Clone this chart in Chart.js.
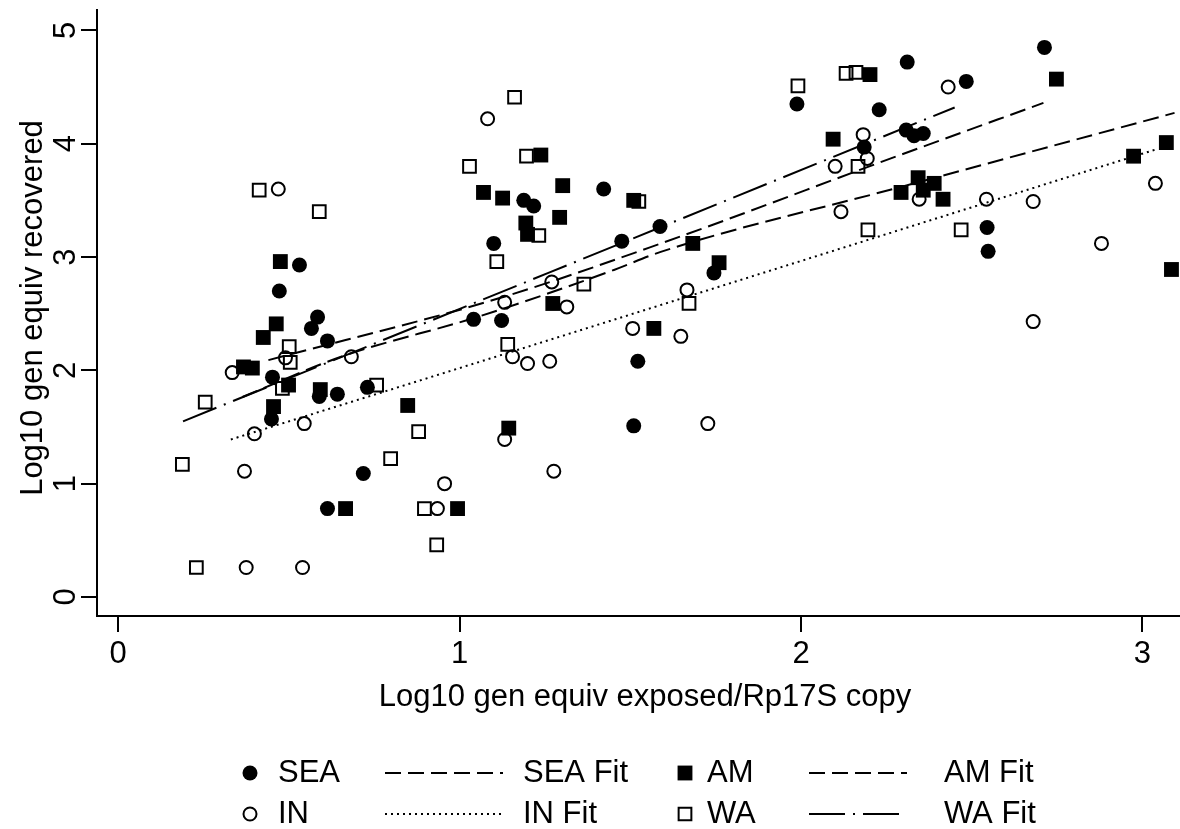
<!DOCTYPE html>
<html>
<head>
<meta charset="utf-8">
<script src="https://cdn.jsdelivr.net/npm/chart.js@4.4.1/dist/chart.umd.min.js"></script>
<style>
  html, body { margin: 0; padding: 0; background: #fff; }
</style>
</head>
<body>
<canvas id="chart" width="1180" height="829"></canvas>
<script>
// values
const seaX = [0.472,0.531,0.584,0.566,0.613,0.452,0.589,0.642,0.730,0.449,0.718,0.613,1.041,1.123,1.100,1.188,1.217,1.422,1.475,1.587,1.522,1.510,1.745,1.988,2.229,2.185,2.311,2.308,2.331,2.358,2.484,2.713,2.545,2.548];
const seaY = [2.70,2.93,2.47,2.37,2.26,1.94,1.77,1.79,1.85,1.57,1.09,0.78,2.45,2.44,3.12,3.50,3.45,3.60,3.14,3.27,2.08,1.51,2.86,4.35,4.30,3.97,4.72,4.12,4.07,4.09,4.55,4.85,3.26,3.05];

const inX = [0.469,0.490,0.683,0.334,0.545,0.399,0.370,0.375,0.540,0.956,0.935,1.082,1.132,1.132,1.155,1.199,1.264,1.270,1.314,1.276,1.507,1.648,1.666,1.727,2.100,2.117,2.182,2.194,2.431,2.346,2.543,2.680,2.680,2.880,3.038];
const inY = [3.60,2.11,2.12,1.98,1.53,1.44,1.11,0.26,0.26,1.00,0.78,4.22,2.60,1.39,2.12,2.06,2.08,2.78,2.56,1.11,2.37,2.30,2.71,1.53,3.80,3.40,4.08,3.87,4.50,3.51,3.51,3.49,2.43,3.12,3.65];

const amX = [0.475,0.463,0.425,0.367,0.393,0.499,0.592,0.455,0.666,0.848,0.994,1.070,1.126,1.194,1.199,1.238,1.302,1.293,1.273,1.144,1.510,1.569,1.683,1.760,2.094,2.202,2.293,2.343,2.358,2.390,2.416,2.748,2.974,3.070,3.085];
const amY = [2.96,2.41,2.29,2.03,2.02,1.87,1.83,1.68,0.78,1.69,0.78,3.57,3.52,3.30,3.20,3.90,3.63,3.35,2.59,1.49,3.50,2.37,3.12,2.95,4.04,4.61,3.57,3.70,3.59,3.65,3.51,4.57,3.89,4.01,2.89];

const waX = [0.413,0.589,0.501,0.504,0.481,0.255,0.188,0.229,0.757,0.880,0.798,0.897,0.933,1.029,1.161,1.196,1.232,1.109,1.141,1.364,1.525,1.672,1.991,2.132,2.161,2.167,2.196,2.469];
const waY = [3.59,3.40,2.21,2.07,1.84,1.72,1.17,0.26,1.87,1.46,1.22,0.78,0.46,3.80,4.41,3.89,3.19,2.96,2.23,2.76,3.49,2.59,4.51,4.62,4.63,3.80,3.24,3.24];

// fitted lines, points
const seaFitX = [0.44, 1.12, 1.59, 2.29, 2.71];
const seaFitY = [2.09, 2.64, 3.12, 3.90, 4.36];
const inFitX = [0.33, 1.00, 3.04];
const inFitY = [1.39, 2.02, 3.95];
const amFitX = [0.364, 0.651, 1.062, 1.452, 1.589, 2.293, 3.094];
const amFitY = [1.765, 2.118, 2.480, 2.886, 3.045, 3.619, 4.272];
const waFitX = [0.19, 1.26, 2.45];
const waFitY = [1.55, 2.86, 4.32];

const xTicks = [0, 1, 2, 3];
const yTicks = [0, 1, 2, 3, 4, 5];
const xTitle = 'Log10 gen equiv exposed/Rp17S copy';
const yTitle = 'Log10 gen equiv recovered';

const FONT = '"Liberation Sans", Arial, sans-serif';
const zip = (xs, ys) => xs.map((x, i) => ({ x, y: ys[i] }));

function markerSet(label, xs, ys, style, filled, r) {
    return {
        type: 'scatter', label, data: zip(xs, ys),
        pointStyle: style, pointRadius: r, pointHoverRadius: r,
        backgroundColor: filled ? '#000' : 'rgba(0,0,0,0)',
        borderColor: '#000', borderWidth: filled ? 0 : 2
    };
}

function fitSet(label, xs, ys, dash) {
    return {
        type: 'line', label, data: zip(xs, ys),
        borderColor: '#000', borderWidth: 2, borderDash: dash,
        pointRadius: 0, fill: false, cubicInterpolationMode: 'monotone'
    };
}

const datasets = [
    markerSet('SEA', seaX, seaY, 'circle', true, 7.5),
    fitSet('SEA Fit', seaFitX, seaFitY, [16, 7]),
    markerSet('AM', amX, amY, 'rect', true, 10.5),
    fitSet('AM Fit', amFitX, amFitY, [16, 7]),
    markerSet('IN', inX, inY, 'circle', false, 6.5),
    fitSet('IN Fit', inFitX, inFitY, [2, 4]),
    markerSet('WA', waX, waY, 'rect', false, 9),
    fitSet('WA Fit', waFitX, waFitY, [36, 8, 2, 8])
];

// text + legend drawn by hand (stata-like layout)
const textPlugin = {
    id: 'stataText',
    afterDraw(chart) {
        const ctx = chart.ctx;
        const xs = chart.scales.x, ys = chart.scales.y;
        ctx.save();
        ctx.fillStyle = '#000';
        ctx.font = '31px ' + FONT;
        ctx.textAlign = 'center';
        ctx.textBaseline = 'middle';
        xTicks.forEach(v => ctx.fillText(String(v), xs.getPixelForValue(v), 654));
        ctx.fillText(xTitle, 645, 697);
        yTicks.forEach(v => {
            ctx.save();
            ctx.translate(66, ys.getPixelForValue(v));
            ctx.rotate(-Math.PI / 2);
            ctx.fillText(String(v), 0, 0);
            ctx.restore();
        });
        ctx.save();
        ctx.translate(33, 308);
        ctx.rotate(-Math.PI / 2);
        ctx.fillText(yTitle, 0, 0);
        ctx.restore();

        // legend, 2 rows x 4 columns
        const rows = [[0, 1, 2, 3], [4, 5, 6, 7]];
        const rowY = [773, 814];
        const cols = [
            { mark: 250, text: 278 },
            { x0: 385, x1: 503, text: 523 },
            { mark: 685, text: 707 },
            { x0: 809, x1: 907, text: 944 }
        ];
        ctx.textAlign = 'left';
        rows.forEach((row, ri) => {
            const y = rowY[ri];
            row.forEach((di, ci) => {
                const ds = chart.data.datasets[di];
                const c = cols[ci];
                if (ds.type === 'scatter') {
                    ctx.fillStyle = ds.backgroundColor;
                    ctx.strokeStyle = ds.borderColor;
                    ctx.lineWidth = ds.borderWidth;
                    Chart.helpers.drawPoint(ctx, {
                        pointStyle: ds.pointStyle, radius: ds.pointRadius,
                        borderWidth: ds.borderWidth
                    }, c.mark, y);
                } else {
                    ctx.beginPath();
                    ctx.setLineDash(ds.borderDash);
                    ctx.lineWidth = 2;
                    ctx.strokeStyle = '#000';
                    ctx.moveTo(c.x0, y);
                    ctx.lineTo(c.x1, y);
                    ctx.stroke();
                    ctx.setLineDash([]);
                }
                ctx.fillStyle = '#000';
                ctx.fillText(ds.label, c.text, y);
            });
        });
        ctx.restore();
    }
};

new Chart(document.getElementById('chart'), {
    data: { datasets },
    options: {
        responsive: false,
        animation: false,
        layout: { autoPadding: false, padding: { top: 10, right: 0, left: 0, bottom: 0 } },
        plugins: { legend: { display: false }, tooltip: { enabled: false } },
        scales: {
            x: {
                type: 'linear', min: -0.062, max: 3.11,
                afterBuildTicks: s => { s.ticks = xTicks.map(v => ({ value: v })); },
                afterFit: s => { s.height = 213; },
                ticks: { display: false },
                grid: { drawOnChartArea: false, drawTicks: true, tickLength: 16, color: '#000', lineWidth: 2 },
                border: { display: true, color: '#000', width: 2 }
            },
            y: {
                type: 'linear', min: -0.168, max: 5.18,
                afterBuildTicks: s => { s.ticks = yTicks.map(v => ({ value: v })); },
                afterFit: s => { s.width = 97; },
                ticks: { display: false },
                grid: { drawOnChartArea: false, drawTicks: true, tickLength: 16, color: '#000', lineWidth: 2 },
                border: { display: true, color: '#000', width: 2 }
            }
        }
    },
    plugins: [textPlugin]
});
</script>
</body>
</html>
